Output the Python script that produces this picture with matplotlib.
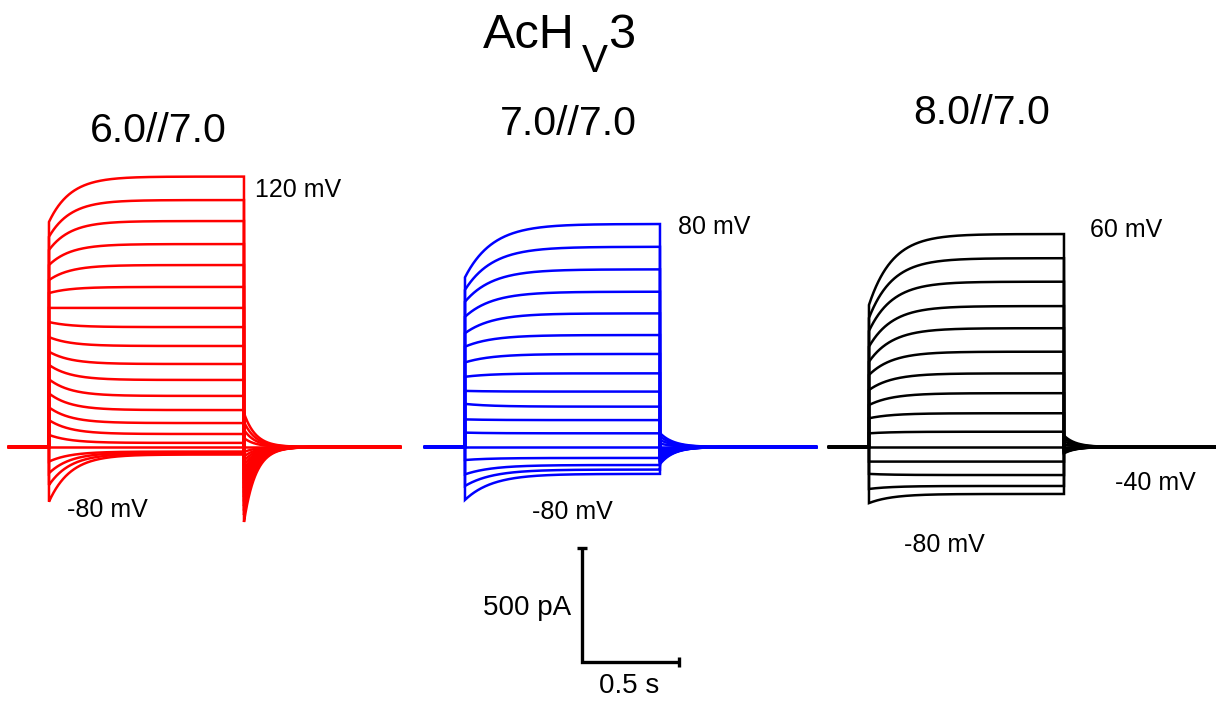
import numpy as np
import matplotlib.pyplot as plt

plt.rcParams['font.family'] = ['Liberation Sans', 'DejaVu Sans']

W, H = 1216, 705
PX_PER_S = 195.0      # 0.5 s scale bar ~ 97 px
PX_PER_PA = 0.228     # 500 pA scale bar ~ 114 px
BASE_PX = 447.0       # holding current level (px from top)

# pulse protocol, s
t_pre, t_step, t_post = 0.205, 1.0, 0.8
dt = 0.002

# pHo//pHi 6.0//7.0, steps -80 .. 120 mV (pA)
red_mv = list(range(-80, 121, 10))
red_start = [-240, -167, -115, -64, 0, 53, 118, 174, 235, 297, 360,
             418, 482, 548, 610, 675, 732, 798, 864, 922, 987]
red_steady = [-33, -29, -24, -20, 0, 18, 57, 105, 162, 224, 294,
              364, 443, 526, 610, 702, 798, 890, 991, 1083, 1186]
red_tail = [149, 110, 75, 39, 0, -22, -42, -61, -81, -101, -121,
            -140, -160, -180, -200, -219, -239, -259, -279, -298, -329]

# 7.0//7.0, steps -80 .. 80 mV
blue_mv = list(range(-80, 81, 10))
blue_start = [-232, -171, -120, -57, 0, 63, 121, 189, 246, 308, 371,
              440, 499, 571, 637, 689, 744]
blue_steady = [-118, -99, -79, -48, 0, 60, 118, 177, 243, 323, 408,
               491, 586, 681, 779, 878, 978]
blue_tail = [61, 46, 31, 15, 0, -9, -15, -22, -29, -35, -42,
             -48, -55, -61, -66, -70, -75]

# 8.0//7.0, steps -80 .. 60 mV
black_mv = list(range(-80, 61, 10))
black_start = [-246, -184, -118, -64, 0, 60, 126, 184, 250, 316, 374,
               440, 509, 566, 623]
black_steady = [-206, -171, -123, -64, 0, 67, 148, 236, 323, 418, 521,
                618, 725, 828, 934]
black_tail = [50, 38, 25, 12, 0, -4, -7, -10, -13, -16, -18,
              -21, -23, -25, -28]


def sweep(i0, iss, itail, tau_on, tau_off):
    t1 = np.arange(0, t_step, dt)
    step = iss + (i0 - iss) * np.exp(-t1 / tau_on)
    t2 = np.arange(0, t_post + dt, dt)
    tail = itail * np.exp(-t2 / tau_off)
    t = np.concatenate([[0, t_pre], t_pre + t1, [t_pre + t_step], t_pre + t_step + t2])
    i = np.concatenate([[0, 0], step, [iss], tail])
    return t, i


fig = plt.figure(figsize=(W / 100, H / 100), dpi=100)
ax = fig.add_axes([0, 0, 1, 1])
ax.set_xlim(0, W / PX_PER_S)
ax.set_ylim((BASE_PX - H) / PX_PER_PA, BASE_PX / PX_PER_PA)
ax.axis('off')

panels = [
    (9 / PX_PER_S, red_start, red_steady, red_tail, 0.11, 0.06, '#ff0000'),
    (425 / PX_PER_S, blue_start, blue_steady, blue_tail, 0.14, 0.07, '#0000ff'),
    (829 / PX_PER_S, black_start, black_steady, black_tail, 0.12, 0.06, 'black'),
]
for t0, st, ss, tl, ton, toff, col in panels:
    for i0, iss, itail in zip(st, ss, tl):
        t, i = sweep(i0, iss, itail, ton, toff)
        ax.plot(t0 + t, i, color=col, lw=1.8, solid_joinstyle='miter')

# scale bar: 0.5 s, 500 pA
sx, sy = 581.7 / PX_PER_S, (BASE_PX - 661.7) / PX_PER_PA
ax.plot([sx, sx, sx + 0.5], [sy + 500, sy, sy], color='black', lw=2.4,
        solid_capstyle='butt', solid_joinstyle='miter')
ax.plot([sx], [sy + 500], marker='_', ms=7, mew=2.4, color='black')
ax.plot([sx + 0.5], [sy], marker='|', ms=7, mew=2.4, color='black')


def px_text(x, y, s, size, **kw):
    fig.text(x / W, 1 - y / H, s, fontsize=size, va='baseline', ha='left', **kw)


# title with subscript V
px_text(483, 48, 'AcH', 35)
px_text(582, 72, 'V', 28)
px_text(608, 48, '3', 35)

px_text(90, 142, '6.0//7.0', 29.5)
px_text(500, 135, '7.0//7.0', 29.5)
px_text(913, 124, '8.0//7.0', 29.5)

px_text(255, 197, '120 mV', 18)
px_text(678, 234, '80 mV', 18)
px_text(1090, 237, '60 mV', 18)
px_text(1115, 490, '-40 mV', 18)
px_text(67, 517, '-80 mV', 18)
px_text(532, 519, '-80 mV', 18)
px_text(904, 552, '-80 mV', 18)

px_text(483, 615, '500 pA', 20)
px_text(599, 693, '0.5 s', 20)

fig.savefig('out.png', dpi=100)
